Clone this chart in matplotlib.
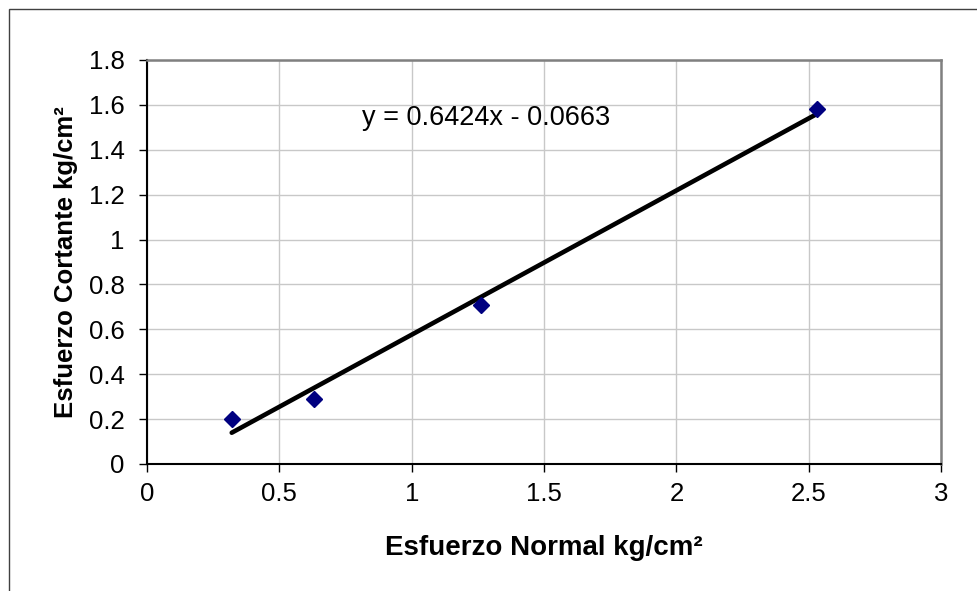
import matplotlib
matplotlib.use("Agg")
import matplotlib.pyplot as plt
import numpy as np
from matplotlib.patches import Rectangle

# Ensayo de corte directo: esfuerzo normal vs cortante
esfuerzo_normal = [0.32, 0.63, 1.26, 2.53]
esfuerzo_cortante = [0.20, 0.29, 0.71, 1.58]
x_ticks = [0, 0.5, 1, 1.5, 2, 2.5, 3]
x_tick_labels = ["0", "0.5", "1", "1.5", "2", "2.5", "3"]
y_ticks = [0, 0.2, 0.4, 0.6, 0.8, 1, 1.2, 1.4, 1.6, 1.8]
y_tick_labels = ["0", "0.2", "0.4", "0.6", "0.8", "1", "1.2", "1.4", "1.6", "1.8"]
equation = "y = 0.6424x - 0.0663"

plt.rcParams['font.family'] = ['Liberation Sans', 'DejaVu Sans']

fig = plt.figure(figsize=(9.77, 5.91), dpi=100)
ax = fig.add_axes([0.1505, 0.2149, 0.8127, 0.6836])

# outer chart border (only left/top visible in the reference)
fig.patches.append(Rectangle((9 / 977, -0.1), 1.2, 1 - 9 / 591 + 0.1,
                             transform=fig.transFigure, fill=False,
                             edgecolor="#404040", linewidth=1.0))

# trend line from least squares fit
slope, intercept = np.polyfit(esfuerzo_normal, esfuerzo_cortante, 1)
xs = np.array([min(esfuerzo_normal), max(esfuerzo_normal)])
ax.plot(xs, slope * xs + intercept, color="black", linewidth=3.3,
        solid_capstyle="round", zorder=3)

ax.plot(esfuerzo_normal, esfuerzo_cortante, linestyle="none", marker="D",
        markersize=8, color="#000080", zorder=4)

ax.text(0.812, 1.542, equation, fontsize=19.5, ha="left", va="center")

ax.set_xlim(0, 3)
ax.set_ylim(0, 1.8)
ax.set_xticks(x_ticks)
ax.set_xticklabels(x_tick_labels)
ax.set_yticks(y_ticks)
ax.set_yticklabels(y_tick_labels)
ax.tick_params(axis="both", direction="out", length=6, width=1,
               labelsize=18.5, color="black")
ax.tick_params(axis="x", pad=7)
ax.tick_params(axis="y", pad=10)

ax.grid(True, color="#c8c8c8", linewidth=1)
ax.set_axisbelow(True)

for side in ["left", "bottom"]:
    ax.spines[side].set_color("black")
    ax.spines[side].set_linewidth(1.5)
for side in ["top", "right"]:
    ax.spines[side].set_color("#808080")
    ax.spines[side].set_linewidth(1.8)

ax.set_xlabel("Esfuerzo Normal kg/cm²", fontsize=20, fontweight="bold", labelpad=21)
ax.set_ylabel("Esfuerzo Cortante kg/cm²", fontsize=18.5, fontweight="bold", labelpad=8)

fig.savefig("out.png", dpi=100)
